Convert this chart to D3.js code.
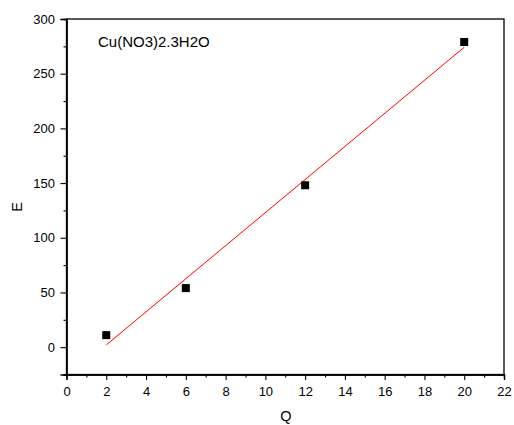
<!DOCTYPE html>
<html>
<head>
<meta charset="utf-8">
<script src="https://cdn.jsdelivr.net/npm/d3@7"></script>
<style>
  html, body { margin: 0; padding: 0; background: #fff; }
  svg text { font-family: "Liberation Sans", Arial, sans-serif; fill: #000; }
</style>
</head>
<body>
<svg id="chart" width="514" height="425"></svg>
<script>
// Measured concentration (Q) and response (E)
const qValues = [2, 6, 12, 20];
const eValues = [11, 54, 148, 279];
const xTicks = [0, 2, 4, 6, 8, 10, 12, 14, 16, 18, 20, 22];
const yTicks = [0, 50, 100, 150, 200, 250, 300];
const seriesLabel = "Cu(NO3)2.3H2O";

const svg = d3.select("#chart");
const plotLeft = 66.5, plotRight = 504, plotTop = 19, plotBottom = 374.5;

const x = d3.scaleLinear().domain([0, 22]).range([plotLeft, plotRight]);
const y = d3.scaleLinear().domain([-25, 300]).range([plotBottom, plotTop]);

// frame
svg.append("rect")
  .attr("x", plotLeft).attr("y", plotTop)
  .attr("width", plotRight - plotLeft).attr("height", plotBottom - plotTop)
  .attr("fill", "none").attr("stroke", "#000").attr("stroke-width", 1.3);

// axes with major + minor ticks
const xAxis = d3.axisBottom(x).tickValues(xTicks).tickSize(5.5).tickPadding(6.5).tickFormat(d3.format("d"));
const xMinor = d3.axisBottom(x).tickValues(d3.range(1, 22, 2)).tickSize(3).tickFormat("");
const yAxis = d3.axisLeft(y).tickValues(yTicks).tickSize(6).tickPadding(5.5).tickFormat(d3.format("d"));
const yMinor = d3.axisLeft(y).tickValues(d3.range(-25, 300, 50)).tickSize(3).tickFormat("");

function style(g) {
  g.select(".domain").attr("stroke", "#000").attr("stroke-width", 1.3);
  g.selectAll(".tick line").attr("stroke", "#000").attr("stroke-width", 1.1);
  g.selectAll(".tick text").attr("font-size", 13).attr("fill", "#000")
    .attr("font-family", "Liberation Sans, Arial, sans-serif");
}
svg.append("g").attr("transform", `translate(0,${plotBottom})`).call(xAxis).call(style);
svg.append("g").attr("transform", `translate(0,${plotBottom})`).call(xMinor).call(style);
svg.append("g").attr("transform", `translate(${plotLeft},0)`).call(yAxis).call(style);
svg.append("g").attr("transform", `translate(${plotLeft},0)`).call(yMinor).call(style);

// least-squares fit line across the data range
const n = qValues.length;
const mx = d3.mean(qValues), my = d3.mean(eValues);
let sxy = 0, sxx = 0;
for (let i = 0; i < n; i++) {
  sxy += (qValues[i] - mx) * (eValues[i] - my);
  sxx += (qValues[i] - mx) ** 2;
}
const slope = sxy / sxx, intercept = my - slope * mx;
const xs = d3.extent(qValues);
svg.append("line")
  .attr("x1", x(xs[0])).attr("y1", y(intercept + slope * xs[0]))
  .attr("x2", x(xs[1])).attr("y2", y(intercept + slope * xs[1]))
  .attr("stroke", "#ff0000").attr("stroke-width", 1);

// data markers
const s = 8;
svg.selectAll("rect.pt").data(qValues).enter().append("rect")
  .attr("class", "pt")
  .attr("x", (d) => x(d) - s / 2)
  .attr("y", (d, i) => y(eValues[i]) - s / 2)
  .attr("width", s).attr("height", s)
  .attr("fill", "#000");

// labels
svg.append("text").attr("x", 98).attr("y", 47).attr("font-size", 15).text(seriesLabel);
svg.append("text").attr("x", 286).attr("y", 421).attr("font-size", 14.5)
  .attr("text-anchor", "middle").text("Q");
svg.append("text").attr("transform", "translate(21.5,207) rotate(-90)")
  .attr("font-size", 14.5).attr("text-anchor", "middle").text("E");
</script>
</body>
</html>
